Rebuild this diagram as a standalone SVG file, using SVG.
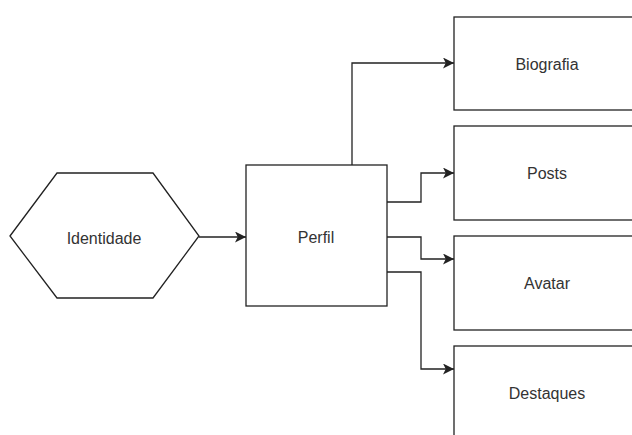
<svg xmlns="http://www.w3.org/2000/svg" width="632" height="435" viewBox="0 0 632 435">
<style>
.s{fill:#fff;stroke:#222;stroke-width:1.3}
.c{fill:none;stroke:#222;stroke-width:1.3}
.t{font-family:"Liberation Sans",Arial,sans-serif;font-size:16px;fill:#333;text-anchor:middle;dominant-baseline:central}
</style>
<defs>
<marker id="a" viewBox="0 0 10 10" refX="10" refY="5" markerWidth="11" markerHeight="11" markerUnits="userSpaceOnUse" orient="auto">
<path d="M0,0 L10,5 L0,10 L2.5,5 Z" fill="#222"/>
</marker>
</defs>
<rect width="632" height="435" fill="#fff"/>
<g id="connectors">
<path class="c" d="M199,237 H246" marker-end="url(#a)"/>
<path class="c" d="M352,165 V63 H454" marker-end="url(#a)"/>
<path class="c" d="M387,202 H421 V173 H454" marker-end="url(#a)"/>
<path class="c" d="M387,237 H421 V259 H454" marker-end="url(#a)"/>
<path class="c" d="M387,272 H421 V369 H454" marker-end="url(#a)"/>
</g>
<g id="identidade">
<polygon class="s" points="10,236 57,173 153,173 199,236 153,298 57,298"/>
<text class="t" x="104" y="238">Identidade</text>
</g>
<g id="perfil">
<rect class="s" x="246" y="165" width="141" height="141"/>
<text class="t" x="316" y="237">Perfil</text>
</g>
<g id="biografia">
<rect class="s" x="454" y="17" width="186" height="93"/>
<text class="t" x="547" y="64">Biografia</text>
</g>
<g id="posts">
<rect class="s" x="454" y="126" width="186" height="94"/>
<text class="t" x="547" y="173">Posts</text>
</g>
<g id="avatar">
<rect class="s" x="454" y="236" width="186" height="94"/>
<text class="t" x="547" y="283">Avatar</text>
</g>
<g id="destaques">
<rect class="s" x="454" y="346" width="186" height="94"/>
<text class="t" x="547" y="393">Destaques</text>
</g>
</svg>
